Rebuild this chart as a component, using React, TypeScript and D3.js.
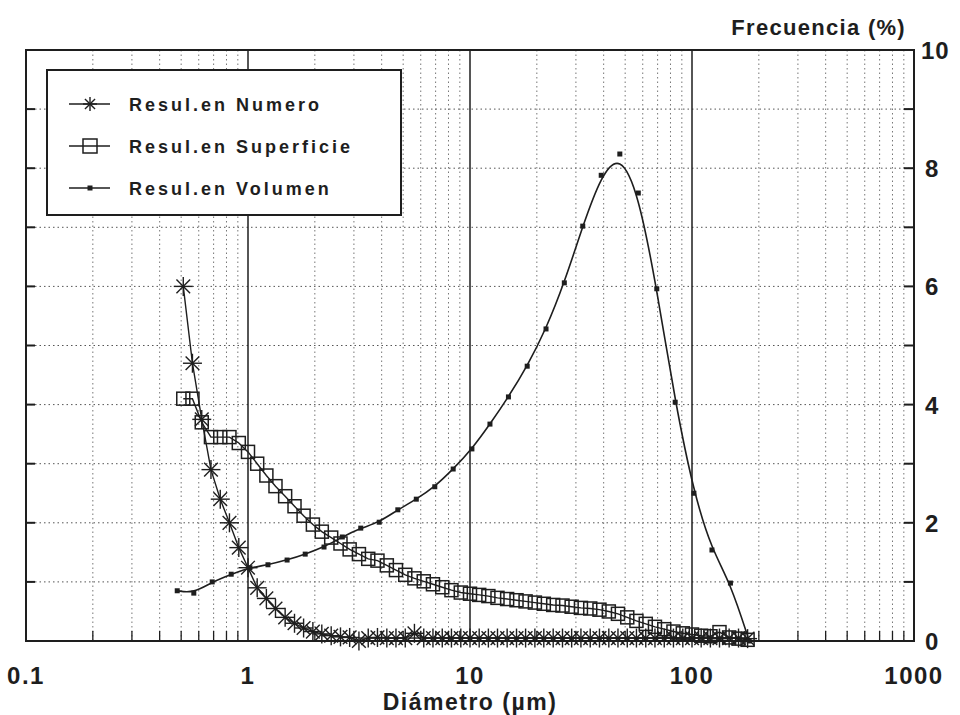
import React from "react";
import * as d3 from "d3";

// ---- data ----
const volDiam = [0.48,0.57,0.69,0.84,1.02,1.23,1.5,1.81,2.2,2.66,3.22,3.9,4.73,5.73,6.94,8.4,10.2,12.3,14.9,18.1,22,26.6,32.2,39,47.3,57.3,69.4,84,102,123,149,181];
const volValues = [0.85,0.81,1.0,1.13,1.24,1.29,1.37,1.47,1.59,1.76,1.91,2.01,2.22,2.4,2.61,2.91,3.25,3.67,4.13,4.65,5.28,6.06,7.02,7.88,8.24,7.58,5.96,4.04,2.5,1.54,0.98,0.0];

const fineDiam = [0.511,0.562,0.619,0.681,0.75,0.825,0.909,1.0,1.10,1.21,1.33,1.47,1.62,1.78,1.96,2.15,2.37,2.61,2.87,3.16,3.48,3.83,4.22,4.64,5.11,5.62,6.19,6.81,7.50,8.25,9.09,10,11.0,12.1,13.3,14.7,16.2,17.8,19.6,21.5,23.7,26.1,28.7,31.6,34.8,38.3,42.2,46.4,51.1,56.2,61.9,68.1,75.0,82.5,90.9,100,110,121,133,147,162,178];
const numValues = [6.0,4.7,3.75,2.9,2.4,2.0,1.58,1.24,0.9,0.72,0.55,0.4,0.3,0.22,0.16,0.12,0.09,0.07,0.06,0.0,0.05,0.06,0.05,0.05,0.05,0.13,0.05,0.05,0.05,0.05,0.05,0.05,0.05,0.05,0.05,0.05,0.05,0.05,0.05,0.05,0.05,0.05,0.05,0.05,0.05,0.05,0.05,0.05,0.05,0.05,0.05,0.05,0.05,0.05,0.05,0.05,0.05,0.05,0.05,0.05,0.05,0.04];
const supValues = [4.1,4.1,3.7,3.45,3.45,3.45,3.35,3.2,3.0,2.8,2.62,2.45,2.28,2.12,1.97,1.85,1.75,1.65,1.55,1.47,1.39,1.36,1.28,1.2,1.12,1.06,1.01,0.96,0.91,0.86,0.82,0.8,0.78,0.76,0.73,0.71,0.69,0.67,0.65,0.63,0.61,0.6,0.58,0.56,0.55,0.53,0.5,0.46,0.4,0.34,0.29,0.24,0.2,0.16,0.13,0.11,0.09,0.08,0.15,0.06,0.04,0.02];

const xTickLabels = [0.1, 1, 10, 100, 1000];
const yTickLabels = [0, 2, 4, 6, 8, 10];
const legendLabels = ["Resul.en Numero", "Resul.en Superficie", "Resul.en Volumen"];

const W = 960, H = 715;
const FONT = "'Liberation Sans', Arial, sans-serif";
const INK = "#1e1e1e";

export default function App() {
  const x = d3.scaleLog().domain([0.1, 1000]).range([26, 914]);
  const y = d3.scaleLinear().domain([0, 10]).range([641, 50]);

  const minor: number[] = [];
  [0.1, 1, 10, 100].forEach((dec) => {
    for (let m = 2; m <= 9; m++) minor.push(dec * m);
  });
  const majors = [1, 10, 100];
  const hGrid = d3.range(1, 10);

  const fineNum = fineDiam.map((d, i) => [d, numValues[i]] as [number, number]);
  const fineSup = fineDiam.map((d, i) => [d, supValues[i]] as [number, number]);
  const vol = volDiam.map((d, i) => [d, volValues[i]] as [number, number]);

  const lin = d3.line<[number, number]>().x((d) => x(d[0])).y((d) => y(d[1]));
  const smooth = d3.line<[number, number]>().x((d) => x(d[0])).y((d) => y(d[1])).curve(d3.curveBasis);

  const star = (cx: number, cy: number, r: number, key: any) => {
    const a = r * 0.72;
    return (
      <g key={key} stroke={INK} strokeWidth={1.4}>
        <line x1={cx - r} y1={cy} x2={cx + r} y2={cy} />
        <line x1={cx} y1={cy - r} x2={cx} y2={cy + r} />
        <line x1={cx - a} y1={cy - a} x2={cx + a} y2={cy + a} />
        <line x1={cx - a} y1={cy + a} x2={cx + a} y2={cy - a} />
      </g>
    );
  };
  const square = (cx: number, cy: number, s: number, key: any) => (
    <rect key={key} x={cx - s / 2} y={cy - s / 2} width={s} height={s} fill="none" stroke={INK} strokeWidth={1.5} />
  );
  const dot = (cx: number, cy: number, s: number, key: any) => (
    <rect key={key} x={cx - s / 2} y={cy - s / 2} width={s} height={s} fill={INK} />
  );

  const x0 = 26, x1 = 914, yTop = 50, yBot = 641;

  return (
    <svg width={W} height={H} style={{ position: "absolute", left: 0, top: 0, background: "#fff" }} fontFamily={FONT}>
      <rect x={0} y={0} width={W} height={H} fill="#fff" />
      {/* grid */}
      {hGrid.map((v) => (
        <line key={"h" + v} x1={x0} x2={x1} y1={y(v)} y2={y(v)} stroke="#555" strokeWidth={1} strokeDasharray="1.5,3" />
      ))}
      {minor.map((v) => (
        <line key={"v" + v} x1={x(v)} x2={x(v)} y1={yTop} y2={yBot} stroke="#777" strokeWidth={1} strokeDasharray="1.5,3" />
      ))}
      {majors.map((v) => (
        <line key={"m" + v} x1={x(v)} x2={x(v)} y1={yTop} y2={yBot} stroke={INK} strokeWidth={1.5} />
      ))}
      {/* minor ticks bottom */}
      {minor.map((v) => (
        <line key={"t" + v} x1={x(v)} x2={x(v)} y1={yBot} y2={yBot - 10} stroke={INK} strokeWidth={1.3} />
      ))}
      {/* left & right ticks */}
      {hGrid.map((v) => (
        <g key={"lt" + v}>
          <line x1={x0} x2={x0 + 9} y1={y(v)} y2={y(v)} stroke={INK} strokeWidth={2} />
          <line x1={x1} x2={x1 - 10} y1={y(v)} y2={y(v)} stroke={INK} strokeWidth={2} />
        </g>
      ))}
      {/* frame */}
      <rect x={x0} y={yTop} width={x1 - x0} height={yBot - yTop} fill="none" stroke={INK} strokeWidth={2} />

      {/* series */}
      <path d={lin(fineSup) || ""} fill="none" stroke={INK} strokeWidth={1.4} />
      {fineSup.map((d, i) => square(x(d[0]), y(d[1]), 13, "s" + i))}
      <path d={lin(fineNum) || ""} fill="none" stroke={INK} strokeWidth={1.4} />
      {fineNum.map((d, i) => star(x(d[0]), y(d[1]), 9.5, "n" + i))}
      <path d={smooth(vol) || ""} fill="none" stroke={INK} strokeWidth={1.6} />
      {vol.map((d, i) => dot(x(d[0]), y(d[1]), 5, "d" + i))}

      {/* legend */}
      <rect x={47} y={70} width={354} height={145} fill="#fff" stroke={INK} strokeWidth={2} />
      {legendLabels.map((t, i) => {
        const ly = 104 + i * 42;
        return (
          <g key={"lg" + i}>
            <line x1={69} x2={110} y1={ly} y2={ly} stroke={INK} strokeWidth={1.5} />
            {i === 0 && star(90, ly, 7, "ls")}
            {i === 1 && square(90, ly, 14, "lq")}
            {i === 2 && dot(90, ly, 5, "ld")}
            <text x={129} y={ly + 7} fontSize={18} fontWeight="bold" letterSpacing={3} fill={INK}>{t}</text>
          </g>
        );
      })}

      {/* axis labels */}
      {xTickLabels.map((v) => (
        <text key={"xl" + v} x={x(v)} y={684} textAnchor="middle" fontSize={24} fontWeight="bold" letterSpacing={1.5} fill={INK}>{String(v)}</text>
      ))}
      {yTickLabels.map((v) => (
        <text key={"yl" + v} x={v === 10 ? 921 : 925} y={y(v) + 9} fontSize={24} fontWeight="bold" letterSpacing={1} fill={INK}>{String(v)}</text>
      ))}
      <text x={470} y={710} textAnchor="middle" fontSize={23} fontWeight="bold" letterSpacing={1.5} fill={INK}>Diámetro (µm)</text>
      <text x={906} y={35} textAnchor="end" fontSize={22} fontWeight="bold" letterSpacing={1.3} fill={INK}>Frecuencia (%)</text>
    </svg>
  );
}
